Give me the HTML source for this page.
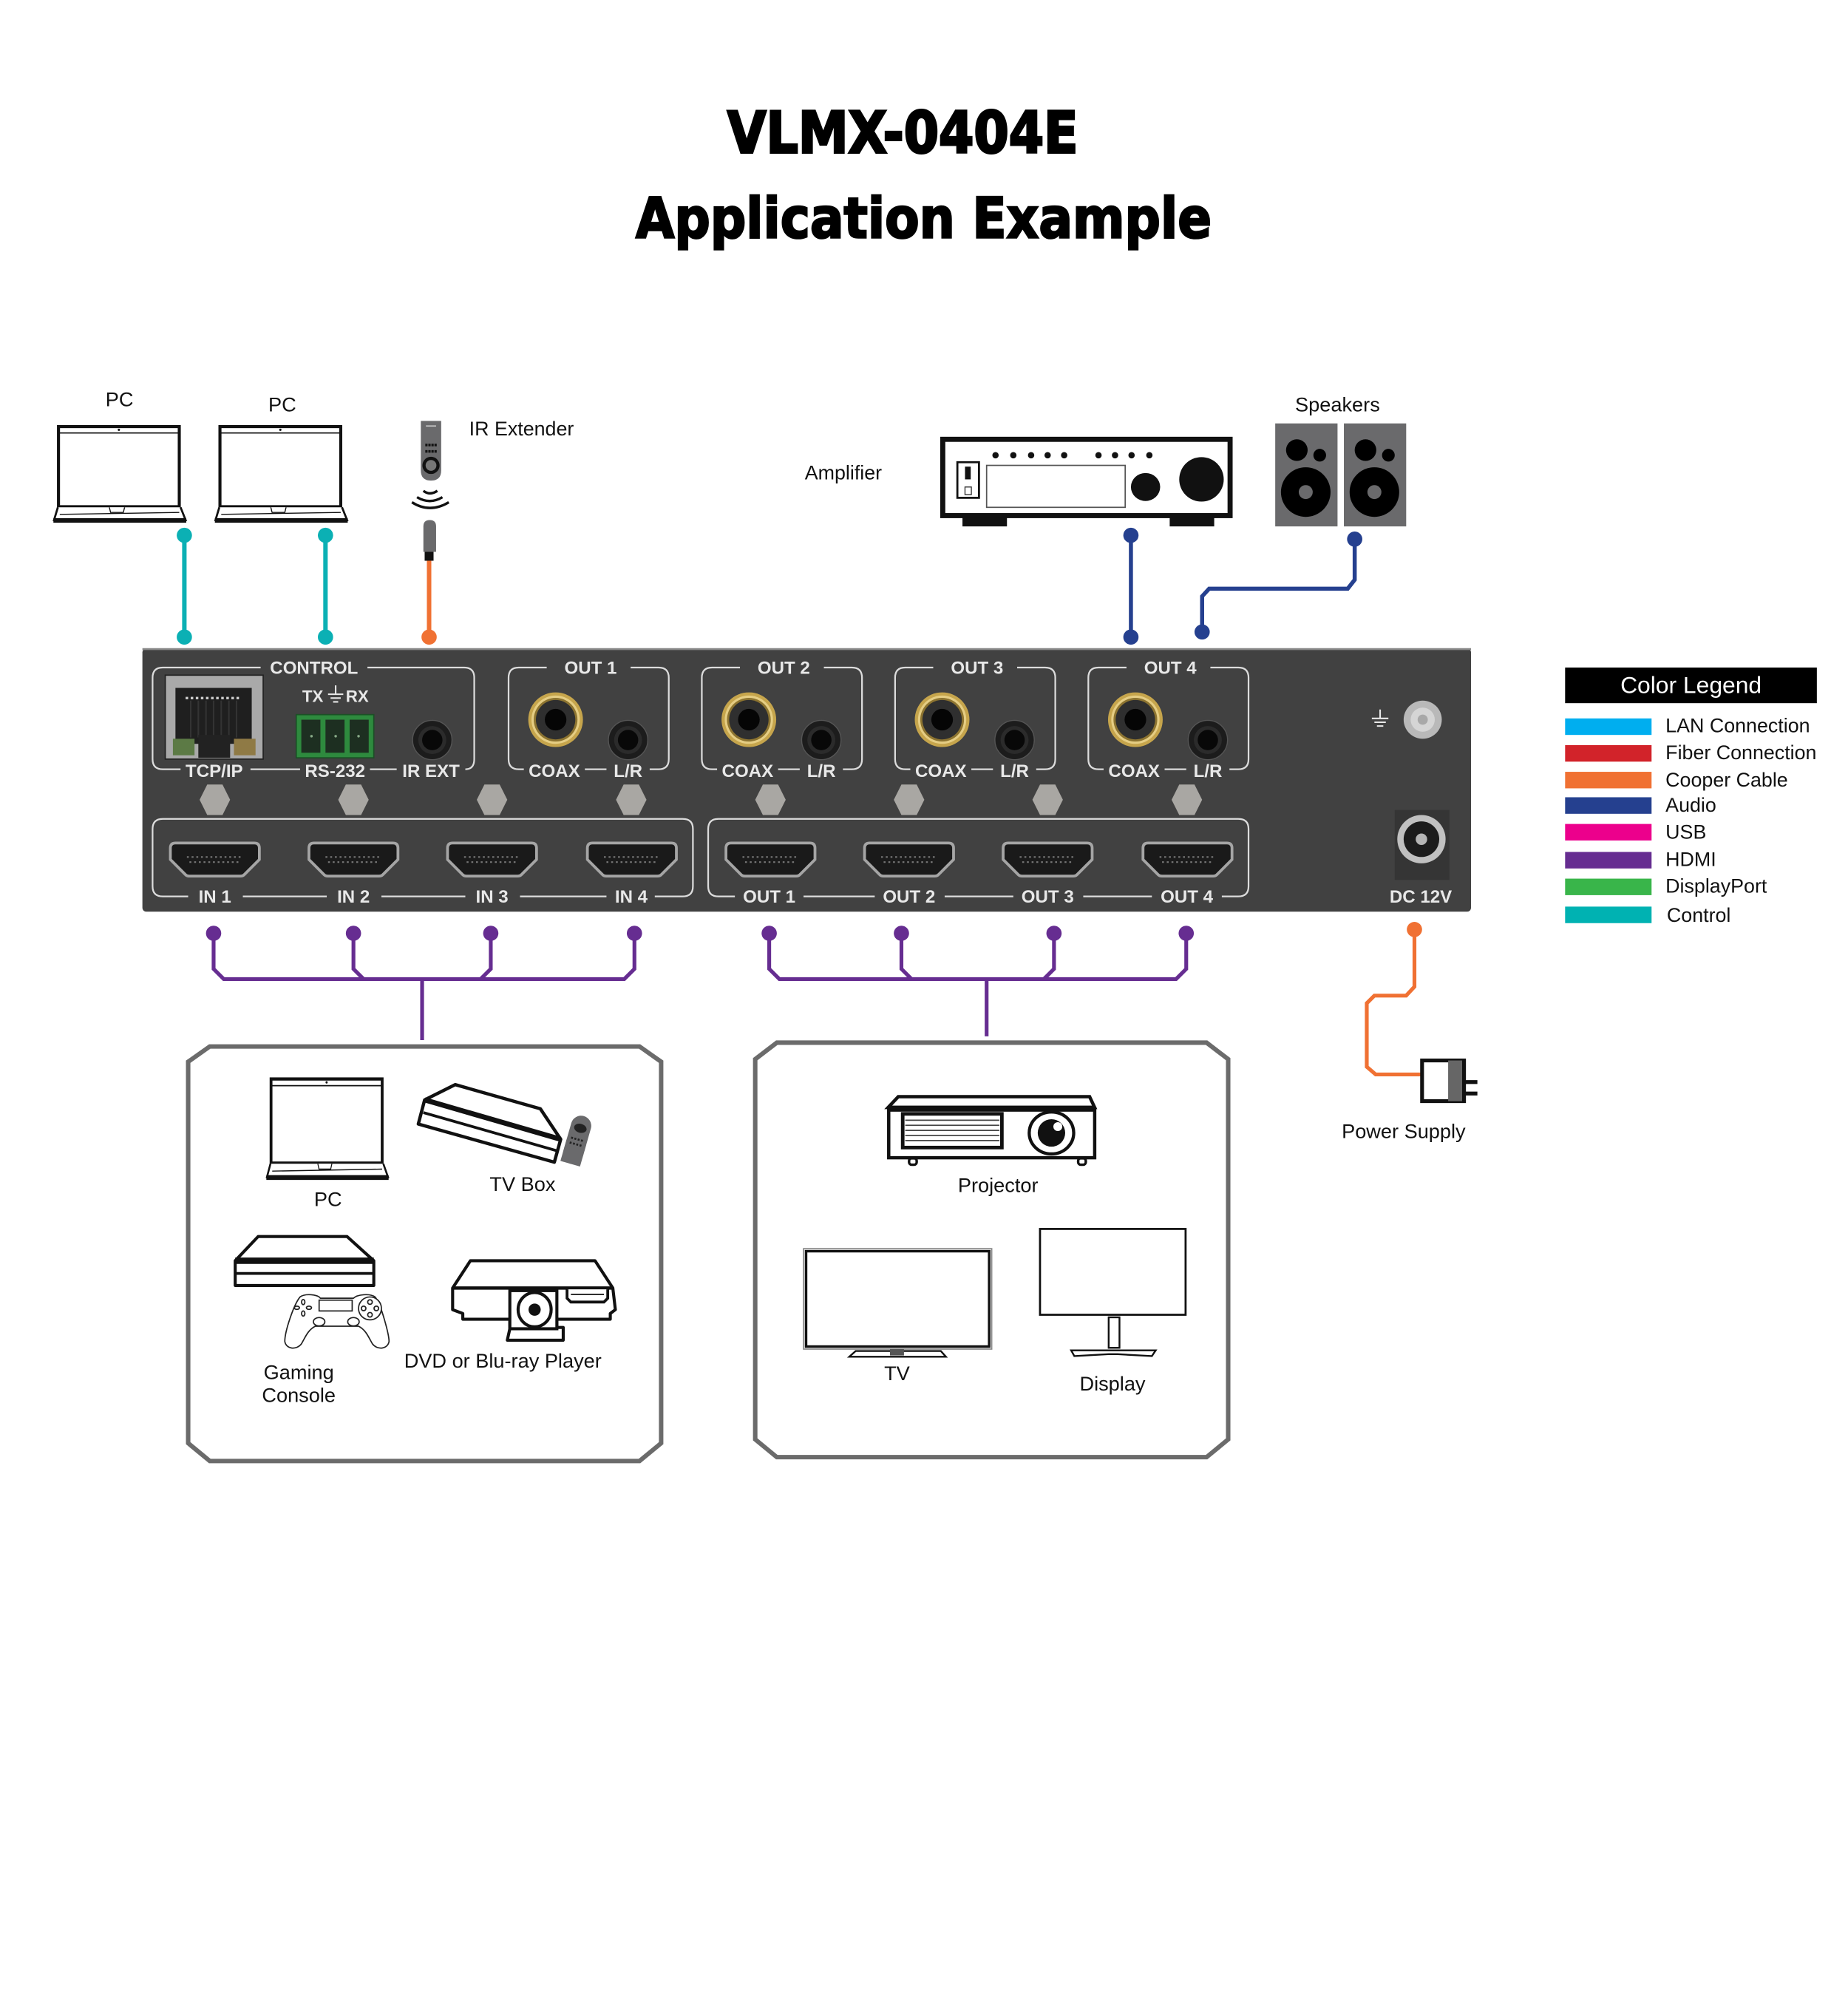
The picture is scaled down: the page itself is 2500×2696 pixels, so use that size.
<!DOCTYPE html>
<html><head><meta charset="utf-8"><title>VLMX-0404E Application Example</title>
<style>
html,body{margin:0;padding:0;background:#fff;width:2500px;height:2696px;overflow:hidden}
svg{display:block}
text{font-family:"Liberation Sans",sans-serif;fill:#111}
.p{font-weight:bold;font-size:14px;fill:#e8e8e8;text-anchor:middle}
.l{font-size:15.8px;text-anchor:middle}
.g{font-size:15.6px}
.ln{fill:none;stroke:#dcdcdc;stroke-width:1.3}
</style></head><body>
<svg xmlns="http://www.w3.org/2000/svg" width="2500" height="2696" viewBox="0 0 1453.5 1567.4" preserveAspectRatio="none">
<defs>
<g id="laptop">
<rect x="4" y="1.5" width="95" height="63" fill="#fff" stroke="#111" stroke-width="2.4"/>
<path d="M5,6.5H98" stroke="#111" stroke-width="1"/><circle cx="51.5" cy="4" r="0.9" fill="#111"/>
<path d="M3.5,65 L0.5,75 H104 L100,65" fill="#fff" stroke="#111" stroke-width="1.6"/>
<path d="M5,70.5 L99,69" stroke="#111" stroke-width="0.8"/>
<path d="M44,65 L45,69 H55 L56,65" fill="#fff" stroke="#111" stroke-width="0.8"/>
<rect x="0" y="73.5" width="104.5" height="3.6" fill="#111"/>
</g>
<g id="hdmi">
<path d="M-31,-13 H31 Q35,-13 35,-9 V0 L23,12 Q22,13 20,13 H-20 Q-22,13 -23,12 L-35,0 V-9 Q-35,-13 -31,-13Z" fill="#1a1a1a" stroke="#a5a5a5" stroke-width="2.2"/>
<path d="M-22,-2 H22 M-20,2 H20" stroke="#777" stroke-width="1.2" stroke-dasharray="1.5 2.2"/>
</g>
<polygon id="hex" points="-12,0 -6,-12 6,-12 12,0 6,12 -6,12" fill="#a9a7a3"/>
<g id="rca">
<circle r="21.5" fill="#c6a54c"/><circle r="19" fill="#e5cd83"/><circle r="17.2" fill="#8d7430"/><circle r="15.5" fill="#2f2f2f"/><circle r="8.5" fill="#050505"/>
</g>
<g id="jack">
<circle r="15.5" fill="#1c1c1c" stroke="#555" stroke-width="0.8"/><circle r="11" fill="#2b2b2b"/><circle r="8" fill="#080808"/>
</g>
</defs>

<text x="710" y="120" text-anchor="middle" textLength="276" lengthAdjust="spacingAndGlyphs" style="font-family:'DejaVu Sans',sans-serif;font-weight:bold;font-size:45px;stroke:#000;stroke-width:1.8;fill:#000">VLMX-0404E</text>
<text x="726.500" y="187" text-anchor="middle" textLength="453" lengthAdjust="spacingAndGlyphs" style="font-family:'DejaVu Sans',sans-serif;font-weight:bold;font-size:44px;stroke:#000;stroke-width:1.5;fill:#000">Application Example</text>

<!-- top icons -->
<use href="#laptop" transform="translate(42,334)"/>
<use href="#laptop" transform="translate(169,334)"/>
<text class="l" x="94" y="319.500">PC</text>
<text class="l" x="222" y="323.500">PC</text>
<text class="g" x="369" y="342.500">IR Extender</text>
<text class="g" x="633" y="377">Amplifier</text>
<text class="l" x="1052" y="323.500">Speakers</text>

<!-- remote -->
<path d="M331,331 H347 V370 Q347,378 339,378 Q331,378 331,370Z" fill="#6a6a6c"/>
<path d="M335,335 H343" stroke="#ddd" stroke-width=".8"/>
<path d="M334.500,350 H343.500 M334.500,355 H343.500" stroke="#111" stroke-width="2" stroke-dasharray="1.8 .6"/>
<circle cx="339" cy="366" r="5.500" fill="#777" stroke="#111" stroke-width="2.500"/>
<path d="M333,386 Q338,390 344,386 M328,391 Q338,397 348,391 M324,395 Q338,404 353,395" fill="none" stroke="#111" stroke-width="2"/>

<!-- IR plug -->
<path d="M333,434 V414 Q333,409 338,409 Q343,409 343,414 V434Z" fill="#6a6a6c"/>
<rect x="334" y="434" width="7" height="7" fill="#111"/>
<path d="M337.500,441 V501" stroke="#f07133" stroke-width="3.500"/>
<circle cx="337.500" cy="501" r="6" fill="#f07133"/>

<!-- teal -->
<g stroke="#0bb0b4" stroke-width="3.500" fill="#0bb0b4">
<path d="M145,421V501M256,421V501"/>
<g stroke="none"><circle cx="145" cy="421" r="6"/><circle cx="145" cy="501" r="6"/><circle cx="256" cy="421" r="6"/><circle cx="256" cy="501" r="6"/></g>
</g>

<!-- amplifier -->
<rect x="741.500" y="345.500" width="226" height="60" fill="#fff" stroke="#111" stroke-width="4"/>
<rect x="757" y="407" width="35" height="7" fill="#111"/><rect x="920" y="407" width="35" height="7" fill="#111"/>
<g fill="#111"><circle cx="783" cy="358" r="2.500"/><circle cx="797" cy="358" r="2.500"/><circle cx="811" cy="358" r="2.500"/><circle cx="824" cy="358" r="2.500"/><circle cx="837" cy="358" r="2.500"/><circle cx="864" cy="358" r="2.500"/><circle cx="877" cy="358" r="2.500"/><circle cx="890" cy="358" r="2.500"/><circle cx="904" cy="358" r="2.500"/>
<ellipse cx="901" cy="383" rx="11.500" ry="11"/><circle cx="945" cy="377" r="17.500"/></g>
<rect x="753" y="363.500" width="17" height="28" fill="#fff" stroke="#111" stroke-width="1.600"/>
<rect x="759" y="367" width="4.500" height="10" fill="#111"/>
<rect x="759" y="383" width="5" height="6" fill="#fff" stroke="#333" stroke-width=".8"/>
<rect x="776" y="366" width="109" height="33" fill="#fff" stroke="#555" stroke-width="1"/>

<!-- speakers -->
<rect x="1003" y="333" width="49" height="81" fill="#6a6a6c"/>
<circle cx="1020" cy="354" r="8.500" fill="#000"/><circle cx="1038" cy="358" r="5" fill="#000"/><circle cx="1027" cy="387" r="19.500" fill="#000"/><circle cx="1027" cy="387" r="5.500" fill="#6a6a6c"/>
<rect x="1057" y="333" width="49" height="81" fill="#6a6a6c"/>
<circle cx="1074" cy="354" r="8.500" fill="#000"/><circle cx="1092" cy="358" r="5" fill="#000"/><circle cx="1081" cy="387" r="19.500" fill="#000"/><circle cx="1081" cy="387" r="5.500" fill="#6a6a6c"/>

<!-- blue -->
<g fill="none" stroke="#25408f" stroke-width="3.200"><path d="M889.500,421V501"/><path d="M1065.500,424V456L1060,463H951L945.500,469V497"/></g>
<g fill="#25408f"><circle cx="889.500" cy="421" r="6"/><circle cx="889.500" cy="501" r="6"/><circle cx="1065.500" cy="424" r="6"/><circle cx="945.500" cy="497" r="6"/></g>

<!-- panel -->
<rect x="112" y="510" width="1045" height="207" rx="3" fill="#414141"/>
<path d="M112,510.500H1157" stroke="#888" stroke-width="1.500"/>

<!-- control -->
<path class="ln" d="M205,525 H128 Q120,525 120,533 V597 Q120,605 128,605 H142 M197,605 H236 M291,605 H312 M366,605 Q373,605 373,597 V533 Q373,525 365,525 H289"/>
<text class="p" x="247" y="530">CONTROL</text>
<text class="p" x="168.500" y="611">TCP/IP</text><text class="p" x="263.500" y="611">RS-232</text><text class="p" x="339" y="611">IR EXT</text>
<text class="p" x="246" y="552" style="font-size:13px">TX</text><text class="p" x="281" y="552" style="font-size:13px">RX</text>
<path d="M264,539V546M258,546H270M260,549H268M262,552H266" stroke="#e8e8e8" stroke-width="1.200"/>

<!-- RJ45 -->
<rect x="130" y="531" width="77" height="66" fill="#a9a9a9" stroke="#222" stroke-width="1"/>
<rect x="138" y="541" width="60" height="44" fill="#1f1f1f"/>
<path d="M146,549H190" stroke="#ccc" stroke-width="2" stroke-dasharray="2 2"/>
<path d="M150,551V580M156,551V580M162,551V580M168,551V580M174,551V580M180,551V580M186,551V580" stroke="#333" stroke-width="1.200"/>
<rect x="136" y="581" width="17" height="13" fill="#5c7a45"/><rect x="184" y="581" width="17" height="13" fill="#8f7a45"/>
<rect x="156" y="578" width="25" height="18" fill="#222"/>

<!-- RS232 -->
<rect x="233" y="562" width="61" height="34" fill="#2e8a3e" stroke="#1c4f26" stroke-width="1"/>
<rect x="237" y="566" width="15" height="26" fill="#1d2f21"/><rect x="256" y="566" width="15" height="26" fill="#1d2f21"/><rect x="275" y="566" width="15" height="26" fill="#1d2f21"/>
<circle cx="245" cy="579" r="1" fill="#8a8"/><circle cx="264" cy="579" r="1" fill="#8a8"/><circle cx="282" cy="579" r="1" fill="#8a8"/>
<use href="#jack" transform="translate(340,582)"/>

<!-- OUT boxes -->
<g><path class="ln" d="M430,525 H408 Q400,525 400,533 V597 Q400,605 408,605 H412 M460,605 H477 M511,605 H518 Q526,605 526,597 V533 Q526,525 518,525 H496"/>
<text class="p" x="464.500" y="530">OUT 1</text><text class="p" x="436" y="611">COAX</text><text class="p" x="494" y="611">L/R</text>
<use href="#rca" transform="translate(437,566)"/><use href="#jack" transform="translate(494,582)"/></g>
<g><path class="ln" d="M582,525 H560 Q552,525 552,533 V597 Q552,605 560,605 H564 M612,605 H629 M663,605 H670 Q678,605 678,597 V533 Q678,525 670,525 H648"/>
<text class="p" x="616.500" y="530">OUT 2</text><text class="p" x="588" y="611">COAX</text><text class="p" x="646" y="611">L/R</text>
<use href="#rca" transform="translate(589,566)"/><use href="#jack" transform="translate(646,582)"/></g>
<g><path class="ln" d="M734,525 H712 Q704,525 704,533 V597 Q704,605 712,605 H716 M764,605 H781 M815,605 H822 Q830,605 830,597 V533 Q830,525 822,525 H800"/>
<text class="p" x="768.500" y="530">OUT 3</text><text class="p" x="740" y="611">COAX</text><text class="p" x="798" y="611">L/R</text>
<use href="#rca" transform="translate(741,566)"/><use href="#jack" transform="translate(798,582)"/></g>
<g><path class="ln" d="M886,525 H864 Q856,525 856,533 V597 Q856,605 864,605 H868 M916,605 H933 M967,605 H974 Q982,605 982,597 V533 Q982,525 974,525 H952"/>
<text class="p" x="920.500" y="530">OUT 4</text><text class="p" x="892" y="611">COAX</text><text class="p" x="950" y="611">L/R</text>
<use href="#rca" transform="translate(893,566)"/><use href="#jack" transform="translate(950,582)"/></g>

<!-- hex -->
<use href="#hex" x="169" y="629"/><use href="#hex" x="278" y="629"/><use href="#hex" x="387" y="629"/><use href="#hex" x="496.500" y="629"/><use href="#hex" x="606" y="629"/><use href="#hex" x="715" y="629"/><use href="#hex" x="824" y="629"/><use href="#hex" x="933.500" y="629"/>

<!-- HDMI -->
<path class="ln" d="M148,705 H128 Q120,705 120,697 V652 Q120,644 128,644 H537 Q545,644 545,652 V697 Q545,705 537,705 H515 M477,705 H409 M366,705 H300 M257,705 H191"/>
<path class="ln" d="M578,705 H565 Q557,705 557,697 V652 Q557,644 565,644 H974 Q982,644 982,652 V697 Q982,705 974,705 H961 M906,705 H852 M797,705 H743 M688,705 H632"/>
<use href="#hdmi" x="169" y="676"/><use href="#hdmi" x="278" y="676"/><use href="#hdmi" x="387" y="676"/><use href="#hdmi" x="497" y="676"/><use href="#hdmi" x="606" y="676"/><use href="#hdmi" x="715" y="676"/><use href="#hdmi" x="824" y="676"/><use href="#hdmi" x="934" y="676"/>
<text class="p" x="169" y="710">IN 1</text><text class="p" x="278" y="710">IN 2</text><text class="p" x="387" y="710">IN 3</text><text class="p" x="496.500" y="710">IN 4</text>
<text class="p" x="605" y="710">OUT 1</text><text class="p" x="715" y="710">OUT 2</text><text class="p" x="824" y="710">OUT 3</text><text class="p" x="933.500" y="710">OUT 4</text>
<text class="p" x="1117.500" y="710">DC 12V</text>

<!-- ground + DC -->
<path d="M1085.500,558V565M1079,565H1092M1081,568H1090M1083,571H1088" stroke="#e8e8e8" stroke-width="1.200"/>
<circle cx="1119" cy="566" r="15" fill="#b9b9b9"/><circle cx="1119" cy="566" r="9.500" fill="#d5d5d5"/><circle cx="1119" cy="566" r="4" fill="#a8a8a8"/>
<rect x="1097" y="637" width="43" height="55" fill="#353535"/>
<circle cx="1118" cy="660" r="19" fill="#c0c0c0"/><circle cx="1118" cy="660" r="14" fill="#1c1c1c"/><circle cx="1118" cy="660" r="4.500" fill="#b5b5b5"/>

<!-- legend -->
<rect x="1231" y="525" width="198" height="28" fill="#000"/>
<text x="1330" y="545" text-anchor="middle" style="font-size:18.500px;fill:#fff">Color Legend</text>
<rect x="1231" y="565" width="68" height="13" fill="#00aeef"/>
<rect x="1231" y="586" width="68" height="13" fill="#d2232a"/>
<rect x="1231" y="607" width="68" height="13" fill="#f07133"/>
<rect x="1231" y="627" width="68" height="13" fill="#25408f"/>
<rect x="1231" y="648" width="68" height="13" fill="#ec008c"/>
<rect x="1231" y="670" width="68" height="13" fill="#662d91"/>
<rect x="1231" y="691" width="68" height="13" fill="#39b54a"/>
<rect x="1231" y="713" width="68" height="13" fill="#00b2b2"/>
<text class="g" x="1310" y="576">LAN Connection</text>
<text class="g" x="1310" y="597">Fiber Connection</text>
<text class="g" x="1310" y="618.500">Cooper Cable</text>
<text class="g" x="1310" y="638.500">Audio</text>
<text class="g" x="1310" y="659.500">USB</text>
<text class="g" x="1310" y="681">HDMI</text>
<text class="g" x="1310" y="702">DisplayPort</text>
<text class="g" x="1311" y="725">Control</text>

<!-- purple -->
<g fill="none" stroke="#662d91" stroke-width="3">
<path d="M168,734V762L176,770H491L499,762V734"/>
<path d="M278,734V762L286,770"/><path d="M386,734V762L378,770"/><path d="M332,770V818"/>
<path d="M605,734V762L613,770H925L933,762V734"/>
<path d="M709,734V762L717,770"/><path d="M829,734V762L821,770"/><path d="M776,770V815"/>
</g>
<g fill="#662d91"><circle cx="168" cy="734" r="6"/><circle cx="278" cy="734" r="6"/><circle cx="386" cy="734" r="6"/><circle cx="499" cy="734" r="6"/><circle cx="605" cy="734" r="6"/><circle cx="709" cy="734" r="6"/><circle cx="829" cy="734" r="6"/><circle cx="933" cy="734" r="6"/></g>

<!-- PSU -->
<path d="M1112.500,731V776L1106,783H1081L1075,789V839L1082,845H1118" fill="none" stroke="#f07133" stroke-width="3"/>
<circle cx="1112.500" cy="731" r="6" fill="#f07133"/>
<rect x="1118.500" y="834" width="33" height="32" fill="#fff" stroke="#111" stroke-width="3"/>
<rect x="1139" y="834" width="11" height="32" fill="#666"/>
<path d="M1152,851H1162M1152,860H1162" stroke="#111" stroke-width="3"/>
<text class="l" x="1104" y="895">Power Supply</text>

<!-- boxes -->
<polygon points="165,823 503,823 520,835 520,1135 503,1149 165,1149 148,1135 148,835" fill="#fff" stroke="#6b6b6b" stroke-width="3.500"/>
<polygon points="594,833 611,820 949,820 966,833 966,1132 949,1146 611,1146 594,1132" fill="#fff" stroke="#6b6b6b" stroke-width="3.500"/>

<use href="#laptop" transform="translate(209.500,847) scale(.92,1.05)"/>
<text class="l" x="258" y="948.500">PC</text>

<!-- TV box -->
<polygon points="334,865 358,853 425,872 441,896 436,914 329,884" fill="#fff" stroke="#111" stroke-width="2.600" stroke-linejoin="round"/>
<path d="M334,865L441,896" stroke="#111" stroke-width="4"/><path d="M333,875L438,905" stroke="#111" stroke-width="2.200"/>
<g transform="translate(454,896) rotate(16)"><rect x="-8" y="-19" width="16" height="39" rx="8" fill="#6a6a6c"/><rect x="-8" y="2" width="16" height="18" fill="#6a6a6c"/><ellipse cx="0" cy="-9" rx="5" ry="3.500" fill="#222"/><path d="M-5,0H5M-5,4H5" stroke="#222" stroke-width="1.600" stroke-dasharray="1.500 1.200"/></g>
<text class="l" x="411" y="936.500">TV Box</text>

<!-- console -->
<polygon points="203,972.500 273,972.500 294,991.500 294,1011 185,1011 185,991.500" fill="#fff" stroke="#111" stroke-width="2.400" stroke-linejoin="round"/>
<path d="M185,991.500H294" stroke="#111" stroke-width="5"/><path d="M185,1001.500H294" stroke="#111" stroke-width="2.200"/>

<!-- controller -->
<g fill="#fff" stroke="#222" stroke-width="1">
<path d="M236,1020C240,1017 250,1018 252,1021L278,1021C281,1018 291,1017 295,1020C300,1026 306,1050 306,1055C305,1061 297,1062 293,1057C290,1052 288,1046 282,1043L248,1043C242,1046 240,1052 237,1057C233,1062 225,1061 224,1055C224,1047 231,1026 236,1020Z"/>
<rect x="251" y="1022.500" width="26" height="8.500"/>
<circle cx="291" cy="1029" r="9"/><circle cx="291" cy="1024" r="1.800"/><circle cx="291" cy="1034" r="1.800"/><circle cx="286" cy="1029" r="1.800"/><circle cx="296" cy="1029" r="1.800"/>
<ellipse cx="251" cy="1039.500" rx="4.500" ry="3.300"/><ellipse cx="278" cy="1039.500" rx="4.500" ry="3.300"/>
<ellipse cx="238.500" cy="1024" rx="1.300" ry="2"/><ellipse cx="238.500" cy="1033" rx="1.300" ry="2"/><ellipse cx="233.500" cy="1028.500" rx="2" ry="1.300"/><ellipse cx="243" cy="1028.500" rx="2" ry="1.300"/>
</g>
<text class="l" x="235" y="1084.500">Gaming</text><text class="l" x="235" y="1102.500">Console</text>

<!-- DVD -->
<path d="M370,991.500H468L482,1013L484,1030L480,1033V1037.500H438V1044H443V1054H399L401,1045V1037.500H364V1033L356,1030V1013Z" fill="#fff" stroke="#111" stroke-width="2.400" stroke-linejoin="round"/>
<path d="M357,1013H482" stroke="#111" stroke-width="2.600"/>
<rect x="401" y="1015" width="37" height="30" fill="#fff" stroke="#111" stroke-width="2.400"/>
<ellipse cx="420.500" cy="1030" rx="13" ry="13.500" fill="#fff" stroke="#111" stroke-width="2.400"/>
<circle cx="420.500" cy="1030" r="4.800" fill="#111"/>
<path d="M446,1014V1021L449,1024H475L478,1021V1014" fill="#fff" stroke="#111" stroke-width="2.200"/>
<path d="M449,1018H475" stroke="#111" stroke-width="1"/>
<text class="l" x="395.500" y="1075.500">DVD or Blu-ray Player</text>

<!-- projector -->
<rect x="699" y="873" width="162" height="37.500" fill="#fff" stroke="#111" stroke-width="2.600"/>
<polygon points="706.500,862.500 857,862.500 861,871 698.500,871" fill="#fff" stroke="#111" stroke-width="2.600"/>
<path d="M699,871H861" stroke="#111" stroke-width="3"/>
<rect x="710" y="876" width="78" height="26.500" fill="#fff" stroke="#111" stroke-width="2.800"/>
<path d="M712,881H786M712,885H786M712,889H786M712,893H786M712,897H786" stroke="#444" stroke-width="1"/>
<ellipse cx="827" cy="891" rx="17.500" ry="16.500" fill="#fff" stroke="#111" stroke-width="2.500"/>
<circle cx="827" cy="891" r="10.800" fill="#111"/><circle cx="832" cy="886" r="3.500" fill="#fff"/>
<rect x="715" y="911" width="6" height="5" rx="2" fill="#fff" stroke="#111" stroke-width="2"/><rect x="848" y="911" width="6" height="5" rx="2" fill="#fff" stroke="#111" stroke-width="2"/>
<text class="l" x="785" y="937.500">Projector</text>

<!-- TV -->
<rect x="632" y="982" width="148" height="79" fill="#fff" stroke="#888" stroke-width="1"/>
<rect x="634" y="984" width="144" height="75" fill="#fff" stroke="#111" stroke-width="2"/>
<path d="M668,1067H744L740,1062.500H673Z" fill="#fff" stroke="#111" stroke-width="1.400"/>
<rect x="700" y="1061" width="11" height="5" fill="#555"/>
<text class="l" x="705.500" y="1085.500">TV</text>

<!-- display -->
<rect x="818" y="966.500" width="114.500" height="67.500" fill="#fff" stroke="#111" stroke-width="1.600"/>
<rect x="872" y="1036" width="8.500" height="24" fill="#fff" stroke="#111" stroke-width="1.400"/>
<path d="M842.500,1062H909L906,1066.500L879,1065L872,1065L845,1066.500Z" fill="#fff" stroke="#111" stroke-width="1.400"/>
<text class="l" x="875" y="1093.500">Display</text>
</svg>
</body></html>
